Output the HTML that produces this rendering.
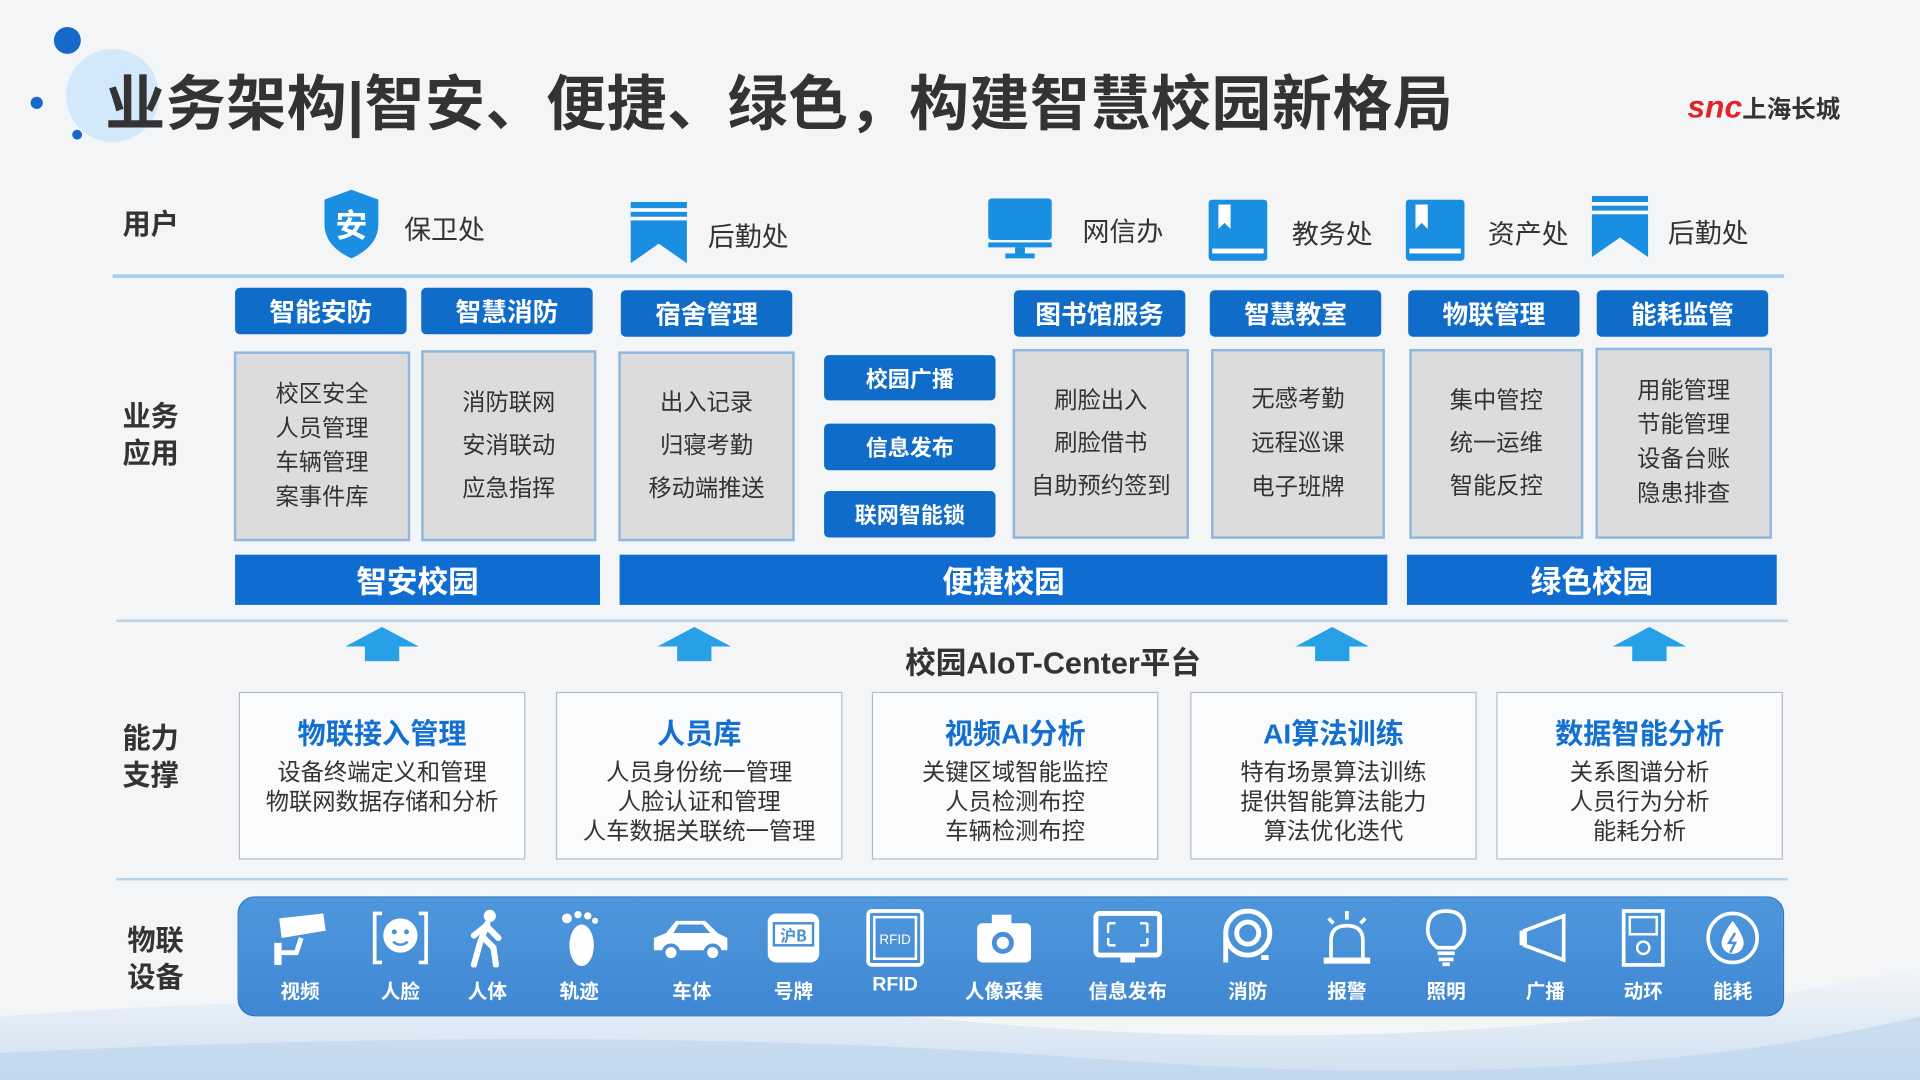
<!DOCTYPE html>
<html><head><meta charset="utf-8"><style>
*{margin:0;padding:0;box-sizing:border-box}
html,body{width:1920px;height:1080px;overflow:hidden;background:#f4f5f7}
#s{position:absolute;left:0;top:0;width:1568px;height:882px;transform:scale(1.22449);transform-origin:0 0;font-family:"Liberation Sans","Noto Sans CJK SC",sans-serif;background:#f4f5f7}
.a{position:absolute}
.lab{position:absolute;font-weight:bold;font-size:23px;color:#333;line-height:30px}
.btn{position:absolute;background:#0f6cc9;color:#fff;font-weight:bold;font-size:21px;text-align:center;border-radius:4px;display:flex;align-items:center;justify-content:center}
.gb{position:absolute;background:#dcdcdc;border:2px solid #8fb8e0;color:#333;font-size:19px;text-align:center;display:flex;flex-direction:column;justify-content:center}
.bar{position:absolute;background:#0f6cd0;color:#fff;font-weight:bold;font-size:25px;display:flex;align-items:center;justify-content:center;top:453px;height:41px}
.line{position:absolute;height:2px;background:#b3d4ef}
.wb{position:absolute;top:565px;height:137px;width:234px;background:#fafbfc;border:1.5px solid #b8bcc2;text-align:center;color:#333;font-size:19px;line-height:24px}
.wb b{display:block;color:#1470d0;font-size:23px;margin:20px 0 8px;line-height:26px}
.arr{position:absolute;top:512px;width:60px;height:28px}
.ut{position:absolute;font-size:22px;color:#333}
.dev{position:absolute;top:742px;width:70px;text-align:center;color:#fff}
.dev span{display:block;font-weight:bold;font-size:16px;margin-top:6px}
.dev svg{display:block;margin:0 auto}
</style></head><body><div id="s">
<svg class="a" style="left:0;top:740px" width="1568" height="142"><defs><linearGradient id="w" x1="0" y1="0" x2="0" y2="1"><stop offset="0" stop-color="#f2f5f9"/><stop offset="1" stop-color="#cfe0f1"/></linearGradient></defs><path d="M0 90 Q400 60 800 95 T1568 50 L1568 142 L0 142Z" fill="url(#w)"/><path d="M0 120 Q500 95 900 125 T1568 90 L1568 142 L0 142Z" fill="#b5d0ec" opacity=".5"/></svg>
<div class="a" style="left:54px;top:40px;width:76px;height:76px;border-radius:50%;background:#d3e8fb"></div>
<div class="a" style="left:44px;top:22px;width:22px;height:22px;border-radius:50%;background:#1668c9"></div>
<div class="a" style="left:25px;top:79px;width:10px;height:10px;border-radius:50%;background:#1668c9"></div>
<div class="a" style="left:59px;top:106px;width:8px;height:8px;border-radius:50%;background:#1668c9"></div>
<div class="a" style="left:86px;top:46px;font-size:49px;font-weight:bold;color:#333;letter-spacing:0.4px;white-space:nowrap">业务架构|智安、便捷、绿色，构建智慧校园新格局</div>
<div class="a" style="left:1378px;top:72px;white-space:nowrap"><span style="color:#e0242a;font-weight:bold;font-size:26px;font-style:italic">snc</span><span style="color:#333;font-size:20px;font-weight:bold">上海长城</span></div>
<div class="lab" style="left:100px;top:168px">用户</div>
<svg class="a" style="left:262px;top:153px" width="50" height="60"><path d="M25 2 L47 10 L47 30 Q47 48 25 58 Q3 48 3 30 L3 10Z" fill="#1a8ee0"/><text x="25" y="40" font-size="26" font-weight="bold" fill="#fff" text-anchor="middle" font-family="Noto Sans CJK SC">安</text></svg>
<div class="ut" style="left:330px;top:170px">保卫处</div>
<svg class="a" style="left:515px;top:165px" width="46" height="50"><path d="M0 0H46V50L23 34L0 50Z" fill="#1a8ee0"/><rect y="5" width="46" height="3" fill="#fff"/><rect y="12" width="46" height="3" fill="#fff"/></svg>
<div class="ut" style="left:578px;top:176px">后勤处</div>
<svg class="a" style="left:807px;top:162px" width="52" height="50"><rect width="52" height="34" rx="3" fill="#1a8ee0"/><rect x="0" y="36" width="52" height="4" fill="#1a8ee0"/><rect x="22" y="40" width="8" height="6" fill="#1a8ee0"/><rect x="14" y="45" width="24" height="4" fill="#1a8ee0"/></svg>
<div class="ut" style="left:884px;top:172px">网信办</div>
<svg class="a" style="left:987px;top:163px" width="48" height="50"><rect width="48" height="50" rx="3" fill="#1a8ee0"/><rect x="3" y="40" width="42" height="4" fill="#fff"/><path d="M8 4H18V24L13 19L8 24Z" fill="#fff"/></svg>
<div class="ut" style="left:1055px;top:174px">教务处</div>
<svg class="a" style="left:1148px;top:163px" width="48" height="50"><rect width="48" height="50" rx="3" fill="#1a8ee0"/><rect x="3" y="40" width="42" height="4" fill="#fff"/><path d="M8 4H18V24L13 19L8 24Z" fill="#fff"/></svg>
<div class="ut" style="left:1215px;top:174px">资产处</div>
<svg class="a" style="left:1300px;top:160px" width="46" height="50"><path d="M0 0H46V50L23 34L0 50Z" fill="#1a8ee0"/><rect y="5" width="46" height="3" fill="#fff"/><rect y="12" width="46" height="3" fill="#fff"/></svg>
<div class="ut" style="left:1362px;top:173px">后勤处</div>
<div class="line" style="left:92px;top:224px;width:1365px;height:3px;background:#a9cfee"></div>
<div class="lab" style="left:100px;top:325px">业务<br>应用</div>
<div class="btn" style="left:192px;top:235px;width:140px;height:38px">智能安防</div>
<div class="btn" style="left:344px;top:235px;width:140px;height:38px">智慧消防</div>
<div class="btn" style="left:507px;top:237px;width:140px;height:38px">宿舍管理</div>
<div class="btn" style="left:828px;top:237px;width:140px;height:38px">图书馆服务</div>
<div class="btn" style="left:988px;top:237px;width:140px;height:38px">智慧教室</div>
<div class="btn" style="left:1150px;top:237px;width:140px;height:38px">物联管理</div>
<div class="btn" style="left:1304px;top:237px;width:140px;height:38px">能耗监管</div>
<div class="gb" style="left:191px;top:287px;width:144px;height:155px;line-height:28px">校区安全<br>人员管理<br>车辆管理<br>案事件库</div>
<div class="gb" style="left:344px;top:286px;width:143px;height:156px;line-height:35px">消防联网<br>安消联动<br>应急指挥</div>
<div class="gb" style="left:505px;top:287px;width:144px;height:155px;line-height:35px">出入记录<br>归寝考勤<br>移动端推送</div>
<div class="btn" style="left:673px;top:290px;width:140px;height:37px;font-size:18px">校园广播</div>
<div class="btn" style="left:673px;top:346px;width:140px;height:38px;font-size:18px">信息发布</div>
<div class="btn" style="left:673px;top:401px;width:140px;height:38px;font-size:18px">联网智能锁</div>
<div class="gb" style="left:827px;top:285px;width:144px;height:155px;line-height:35px">刷脸出入<br>刷脸借书<br>自助预约签到</div>
<div class="gb" style="left:989px;top:285px;width:142px;height:155px;line-height:36px">无感考勤<br>远程巡课<br>电子班牌</div>
<div class="gb" style="left:1151px;top:285px;width:142px;height:155px;line-height:35px">集中管控<br>统一运维<br>智能反控</div>
<div class="gb" style="left:1303px;top:284px;width:144px;height:156px;line-height:28px">用能管理<br>节能管理<br>设备台账<br>隐患排查</div>
<div class="bar" style="left:192px;width:298px">智安校园</div>
<div class="bar" style="left:506px;width:627px">便捷校园</div>
<div class="bar" style="left:1149px;width:302px">绿色校园</div>
<div class="line" style="left:95px;top:506px;width:1365px"></div>
<svg class="arr" style="left:282px"><path d="M30 0 L60 16 L44 16 L44 28 L16 28 L16 16 L0 16Z" fill="#27a0e8"/></svg>
<svg class="arr" style="left:537px"><path d="M30 0 L60 16 L44 16 L44 28 L16 28 L16 16 L0 16Z" fill="#27a0e8"/></svg>
<svg class="arr" style="left:1058px"><path d="M30 0 L60 16 L44 16 L44 28 L16 28 L16 16 L0 16Z" fill="#27a0e8"/></svg>
<svg class="arr" style="left:1317px"><path d="M30 0 L60 16 L44 16 L44 28 L16 28 L16 16 L0 16Z" fill="#27a0e8"/></svg>
<div class="a" style="left:700px;top:522px;width:320px;text-align:center;font-weight:bold;font-size:25px;color:#333">校园AIoT-Center平台</div>
<div class="lab" style="left:100px;top:588px">能力<br>支撑</div>
<div class="wb" style="left:195px"><b>物联接入管理</b><div style="margin-top:6px">设备终端定义和管理<br>物联网数据存储和分析</div></div>
<div class="wb" style="left:454px"><b>人员库</b>人员身份统一管理<br>人脸认证和管理<br>人车数据关联统一管理</div>
<div class="wb" style="left:712px"><b>视频AI分析</b>关键区域智能监控<br>人员检测布控<br>车辆检测布控</div>
<div class="wb" style="left:972px"><b>AI算法训练</b>特有场景算法训练<br>提供智能算法能力<br>算法优化迭代</div>
<div class="wb" style="left:1222px"><b>数据智能分析</b>关系图谱分析<br>人员行为分析<br>能耗分析</div>
<div class="line" style="left:95px;top:717px;width:1365px"></div>
<div class="lab" style="left:104px;top:753px">物联<br>设备</div>
<div class="a" style="left:194px;top:732px;width:1263px;height:98px;border-radius:14px;background:linear-gradient(#4f97dc,#3f87d2);border:1.5px solid #2d76c6"></div>
<div class="dev" style="left:210px"><svg width="50" height="48"><path d="M8 8 L44 4 L46 18 L10 24Z" fill="#fff"/><rect x="4" y="28" width="6" height="18" fill="#fff"/><path d="M10 36 H22 L26 24" stroke="#fff" stroke-width="4" fill="none"/></svg><span>视频</span></div>
<div class="dev" style="left:292px"><svg width="50" height="48"><path d="M10 4H4V44H10M40 4H46V44H40" stroke="#fff" stroke-width="3" fill="none"/><circle cx="25" cy="22" r="14" fill="#fff"/><circle cx="20" cy="19" r="2" fill="#4a90d9"/><circle cx="30" cy="19" r="2" fill="#4a90d9"/><path d="M19 27 Q25 32 31 27" stroke="#4a90d9" stroke-width="2" fill="none"/></svg><span>人脸</span></div>
<div class="dev" style="left:363px"><svg width="50" height="48"><circle cx="27" cy="6" r="5" fill="#fff"/><path d="M25 12 L19 28 L14 46 M22 24 L30 32 L32 46 M24 14 L34 24 M24 14 L14 22" stroke="#fff" stroke-width="5" fill="none" stroke-linecap="round"/></svg><span>人体</span></div>
<div class="dev" style="left:438px"><svg width="50" height="48"><ellipse cx="27" cy="30" rx="10" ry="17" fill="#fff"/><circle cx="15" cy="8" r="4" fill="#fff"/><circle cx="24" cy="5" r="3" fill="#fff"/><circle cx="32" cy="6" r="3" fill="#fff"/><circle cx="38" cy="10" r="2.5" fill="#fff"/></svg><span>轨迹</span></div>
<div class="dev" style="left:530px"><svg width="70" height="48"><path d="M4 34 V24 L14 20 L22 10 H46 L56 20 L64 24 V34Z" fill="#fff"/><circle cx="18" cy="36" r="6" fill="#fff" stroke="#4a90d9" stroke-width="3"/><circle cx="52" cy="36" r="6" fill="#fff" stroke="#4a90d9" stroke-width="3"/><path d="M24 13 H44 L50 20 H20Z" fill="#4a90d9"/></svg><span>车体</span></div>
<div class="dev" style="left:613px"><svg width="50" height="48"><rect x="4" y="4" width="42" height="40" rx="7" fill="#fff"/><rect x="9" y="12" width="32" height="18" fill="none" stroke="#4a90d9" stroke-width="2"/><text x="25" y="27" font-size="13" font-weight="bold" fill="#4a90d9" text-anchor="middle" font-family="Noto Sans CJK SC">沪B</text></svg><span>号牌</span></div>
<div class="dev" style="left:696px"><svg width="50" height="48"><rect x="3" y="2" width="44" height="44" rx="3" fill="none" stroke="#fff" stroke-width="3"/><rect x="8" y="7" width="34" height="34" fill="none" stroke="#fff" stroke-width="2"/><text x="25" y="29" font-size="11" fill="#fff" text-anchor="middle" font-family="Liberation Sans">RFID</text></svg><span>RFID</span></div>
<div class="dev" style="left:785px"><svg width="50" height="48"><rect x="3" y="12" width="44" height="32" rx="4" fill="#fff"/><rect x="15" y="5" width="16" height="9" fill="#fff"/><circle cx="24" cy="28" r="9" fill="#4a90d9"/><circle cx="24" cy="28" r="5" fill="#fff"/></svg><span>人像采集</span></div>
<div class="dev" style="left:886px"><svg width="60" height="48"><rect x="4" y="4" width="52" height="34" rx="3" fill="none" stroke="#fff" stroke-width="4"/><rect x="24" y="40" width="12" height="4" fill="#fff"/><path d="M14 12V20M14 12H20M46 12V20M46 12H40M14 30V24M14 30H20M46 30V24M46 30H40" stroke="#fff" stroke-width="2"/></svg><span>信息发布</span></div>
<div class="dev" style="left:984px"><svg width="50" height="48"><circle cx="25" cy="20" r="18" fill="none" stroke="#fff" stroke-width="4"/><circle cx="25" cy="20" r="9" fill="none" stroke="#fff" stroke-width="4"/><path d="M7 22 V44" stroke="#fff" stroke-width="4"/><rect x="36" y="38" width="6" height="4" fill="#fff"/></svg><span>消防</span></div>
<div class="dev" style="left:1065px"><svg width="50" height="48"><path d="M12 40 V26 Q12 14 25 14 Q38 14 38 26 V40" fill="none" stroke="#fff" stroke-width="3"/><rect x="6" y="40" width="38" height="5" fill="#fff"/><path d="M25 2V9M10 8L14 12M40 8L36 12" stroke="#fff" stroke-width="3"/></svg><span>报警</span></div>
<div class="dev" style="left:1146px"><svg width="50" height="48"><path d="M25 2 Q40 2 40 17 Q40 26 32 32 H18 Q10 26 10 17 Q10 2 25 2Z" fill="none" stroke="#fff" stroke-width="3"/><rect x="18" y="35" width="14" height="3" fill="#fff"/><rect x="19" y="40" width="12" height="3" fill="#fff"/><rect x="22" y="44" width="6" height="3" fill="#fff"/></svg><span>照明</span></div>
<div class="dev" style="left:1227px"><svg width="50" height="48"><path d="M8 18 L40 6 V42 L8 30Z" fill="none" stroke="#fff" stroke-width="3"/><rect x="4" y="18" width="6" height="12" fill="#fff"/></svg><span>广播</span></div>
<div class="dev" style="left:1307px"><svg width="50" height="48"><rect x="9" y="2" width="32" height="44" fill="none" stroke="#fff" stroke-width="3"/><rect x="14" y="7" width="22" height="14" fill="none" stroke="#fff" stroke-width="2"/><circle cx="25" cy="32" r="5" fill="none" stroke="#fff" stroke-width="2"/></svg><span>动环</span></div>
<div class="dev" style="left:1380px"><svg width="50" height="48"><circle cx="25" cy="24" r="20" fill="none" stroke="#fff" stroke-width="3"/><path d="M25 10 Q34 22 34 28 A9 9 0 0 1 16 28 Q16 22 25 10Z" fill="#fff"/><path d="M27 20 L22 28 H27 L23 36" stroke="#4a90d9" stroke-width="2" fill="none"/></svg><span>能耗</span></div>
</div></body></html>
